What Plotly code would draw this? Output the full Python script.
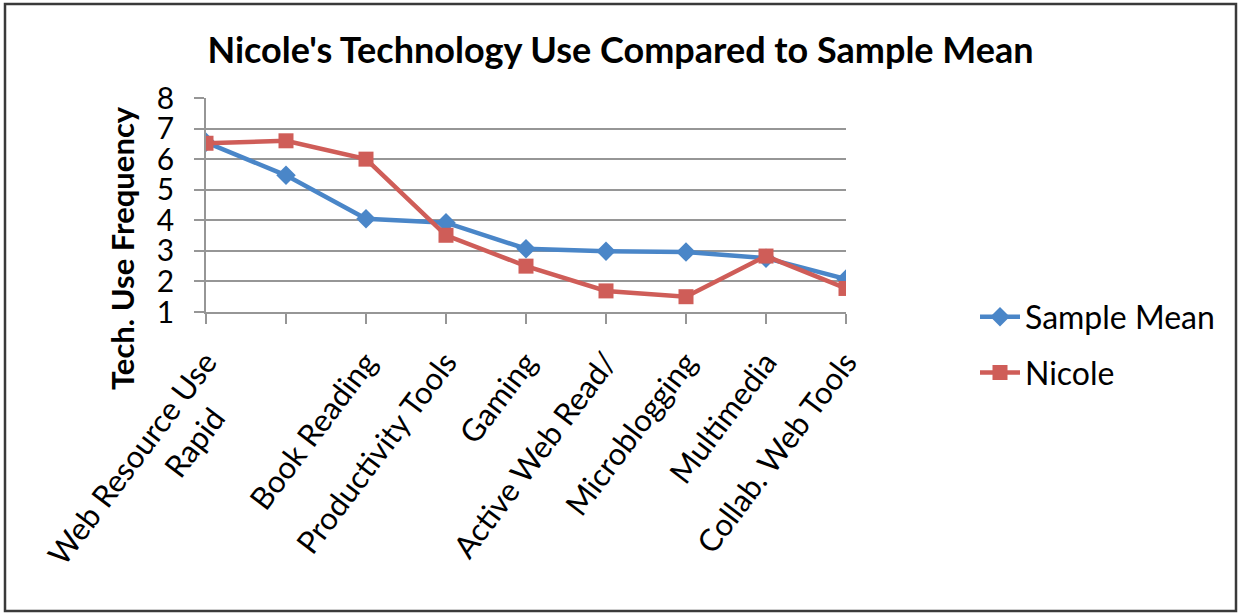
import plotly.graph_objects as go

# Technology-use categories (tick labels along the x axis)
NBSP = "\u00a0"
categories = [
    "Web Resource Use<br>Rapid" + NBSP * 5,
    "",
    "Book Reading",
    "Productivity Tools",
    "Gaming",
    "Active Web Read/",
    "Microblogging",
    "Multimedia",
    "Collab. Web Tools",
]
positions = list(range(len(categories)))

# Frequency scores
sample_mean = [6.55, 5.47, 4.05, 3.92, 3.07, 2.99, 2.96, 2.76, 2.08]
nicole = [6.52, 6.6, 6.0, 3.51, 2.5, 1.69, 1.5, 2.83, 1.77]

y_ticks = [1, 2, 3, 4, 5, 6, 7, 8]

FONT = "Lato"
BLUE = "#4A86C8"
RED = "#CF5D58"
GRID = "#969696"

fig = go.Figure()
fig.add_trace(go.Scatter(
    x=positions, y=sample_mean, name="Sample Mean", mode="lines+markers",
    legendgroup="mean",
    line=dict(color=BLUE, width=4.5),
    marker=dict(symbol="diamond", size=15, color=BLUE),
))
fig.add_trace(go.Scatter(
    x=positions, y=nicole, name="Nicole", mode="lines+markers",
    legendgroup="nicole",
    line=dict(color=RED, width=4.5),
    marker=dict(symbol="square", size=15, color=RED),
))

W, H = 1241, 615
L, R, T, B = 206, 395, 98, 303
pw, ph = W - L - R, H - T - B

def px_x(x):
    return (x - L) / pw

def px_y(y):
    return (H - B - y) / ph

fig.update_layout(
    width=W, height=H,
    margin=dict(l=L, r=R, t=T, b=B, autoexpand=False),
    paper_bgcolor="white", plot_bgcolor="white",
    font=dict(family=FONT, color="black"),
    title=dict(
        text="<b>Nicole's Technology Use Compared to Sample Mean</b>",
        x=0.5, xref="container", xanchor="center",
        y=1 - 50 / H, yref="container", yanchor="middle",
        font=dict(size=36, family=FONT, color="black"),
    ),
    showlegend=True,
    legend=dict(
        x=px_x(975), y=px_y(345), xanchor="left", yanchor="middle",
        font=dict(size=32, family=FONT, color="black"),
        bgcolor="rgba(0,0,0,0)", traceorder="grouped", tracegroupgap=11,
        itemwidth=40,
    ),
    xaxis=dict(
        tickmode="array", tickvals=positions, ticktext=categories,
        range=[0, len(categories) - 1],
        tickangle=-53, automargin=False,
        showgrid=False, showline=True, linecolor=GRID, linewidth=1.5,
        ticks="outside", ticklen=10, tickcolor=GRID, tickwidth=1.5,
        tickfont=dict(size=31, family=FONT, color="black"),
        ticklabelstandoff=8,
        zeroline=False,
    ),
    yaxis=dict(
        range=[1, 8], tickvals=y_ticks, automargin=False,
        showgrid=True, gridcolor=GRID, gridwidth=1.5,
        showline=True, linecolor=GRID, linewidth=1.5,
        ticks="outside", ticklen=10, tickcolor=GRID, tickwidth=1.5,
        tickfont=dict(size=30, family=FONT, color="black"),
        ticklabelstandoff=14,
        zeroline=False,
    ),
)

# Y axis title
fig.add_annotation(
    text="<b>Tech. Use Frequency</b>", textangle=-90,
    xref="paper", yref="paper", x=px_x(122), y=px_y(248),
    xanchor="center", yanchor="middle", showarrow=False,
    font=dict(size=31, family=FONT, color="black"),
)

# Chart border
fig.add_shape(
    type="rect", xref="paper", yref="paper",
    x0=px_x(5), x1=px_x(1236), y0=px_y(611), y1=px_y(4),
    line=dict(color="#3A3A3A", width=2.5), layer="below",
)

fig.write_html("out.html")
